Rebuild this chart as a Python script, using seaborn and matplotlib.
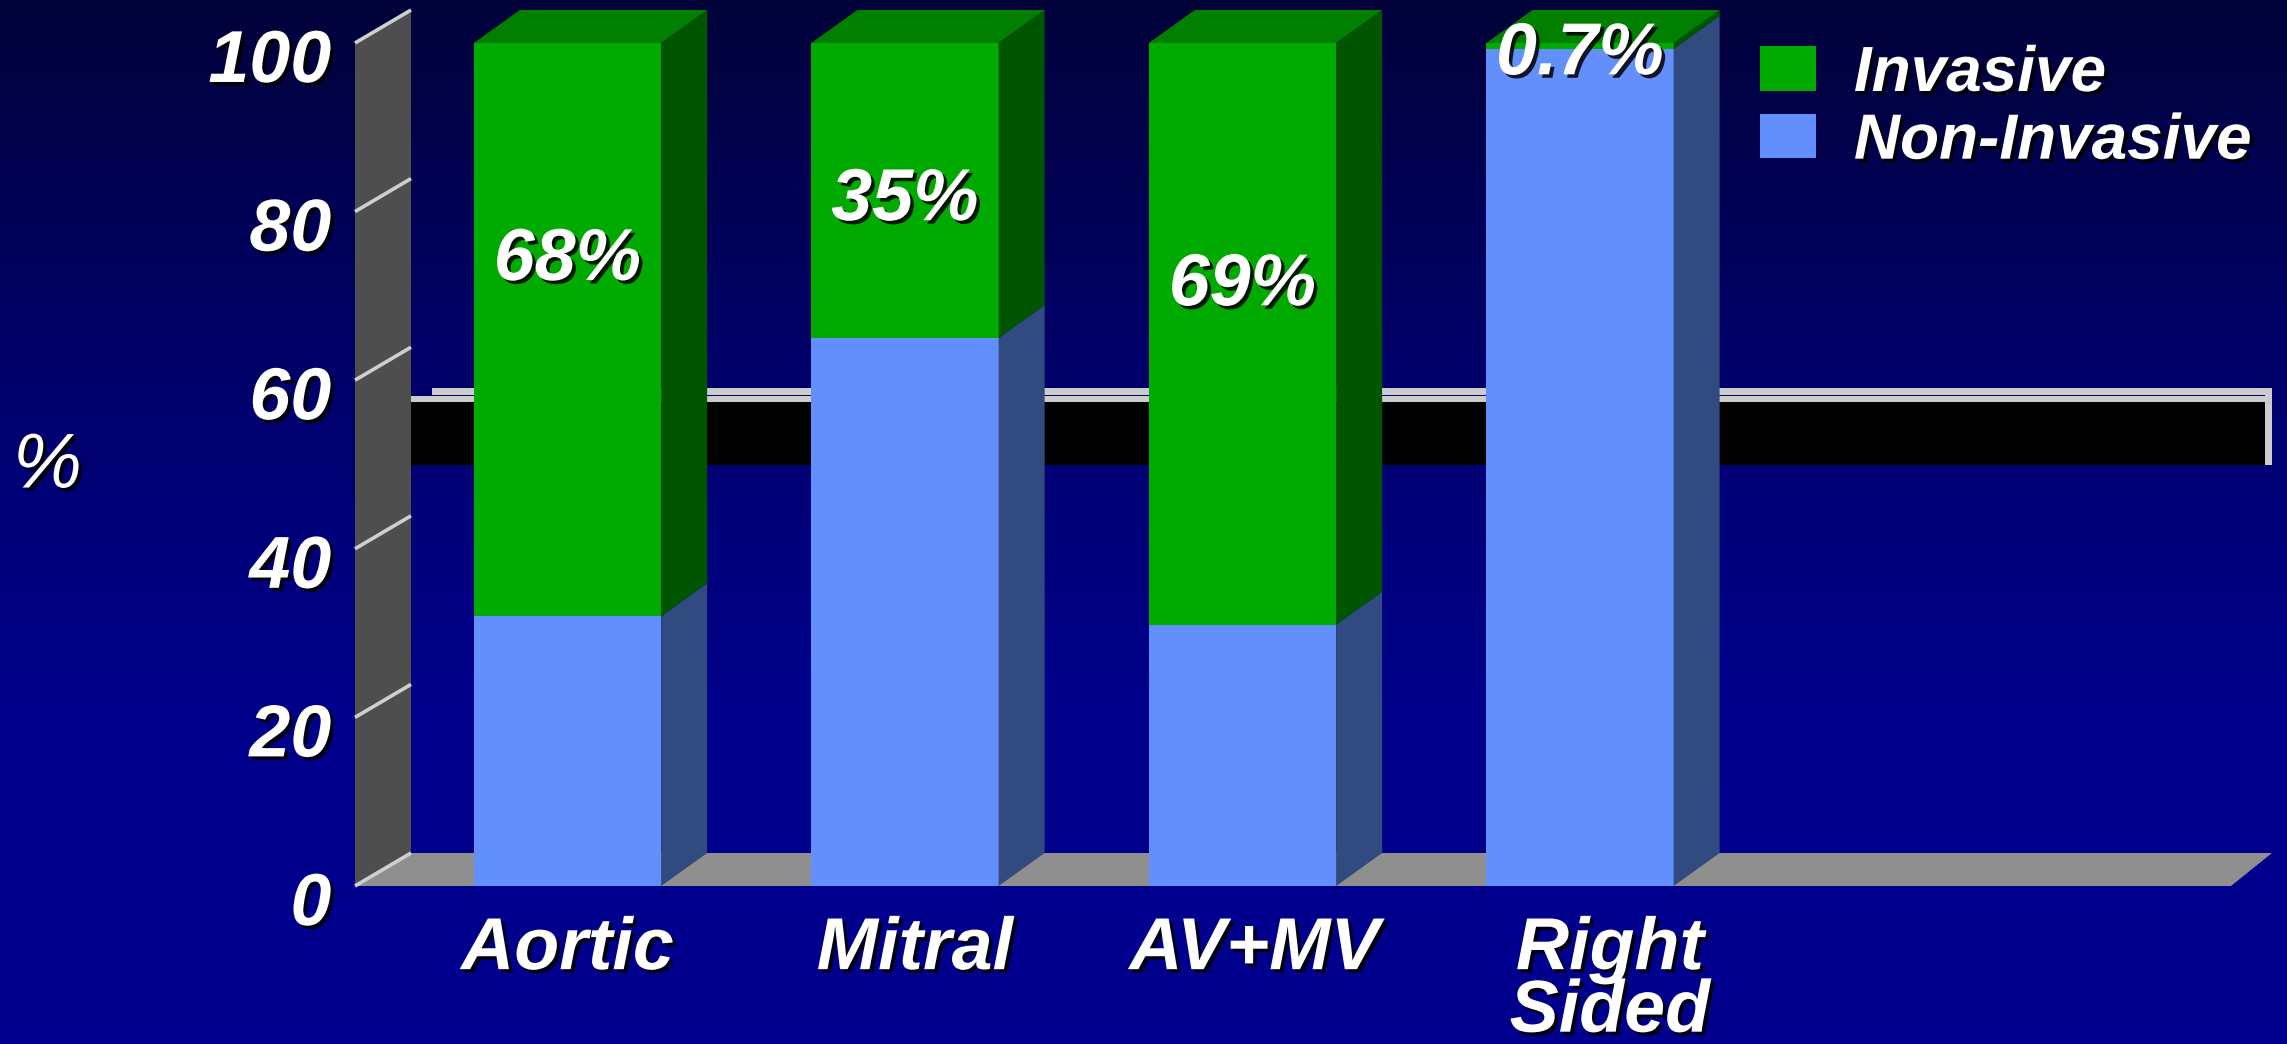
import matplotlib
matplotlib.use('Agg')
import matplotlib.pyplot as plt
import matplotlib.patheffects as pe
import matplotlib.transforms as mtransforms
from matplotlib.patches import Polygon, Rectangle, Patch
from matplotlib.colors import LinearSegmentedColormap
import seaborn as sns
import numpy as np
import pandas as pd

# data
categories = ['Aortic', 'Mitral', 'AV+MV', 'Right\nSided']
invasive = [68, 35, 69, 0.7]
non_invasive = [32, 65, 31, 99.3]
value_labels = ['68%', '35%', '69%', '0.7%']
label_heights = [74.2, 81.3, 71.2, 98.6]
yticks = [0, 20, 40, 60, 80, 100]

GREEN = '#00aa00'
GREEN_SIDE = '#005500'
GREEN_TOP = '#007f00'
BLUE = '#638ffc'
BLUE_SIDE = '#314a80'
WALL = '#4e4e4e'
FLOOR = '#8f8f8f'
TICKLINE = '#cfcfcf'

sns.set_theme(style='white')
plt.rcParams['font.family'] = ['Liberation Sans', 'DejaVu Sans']
plt.rcParams['font.weight'] = 'bold'
plt.rcParams['font.style'] = 'italic'

W, H, DPI = 2287, 1044, 100
fig = plt.figure(figsize=(W / DPI, H / DPI), dpi=DPI)

# navy gradient background
bg = fig.add_axes([0, 0, 1, 1], zorder=-10)
grad = np.linspace(0, 1, 256)[:, None]
cmap = LinearSegmentedColormap.from_list('bg', ['#02023a', '#000068', '#00008a', '#00008e'])
bg.imshow(grad, aspect='auto', cmap=cmap, extent=[0, 1, 0, 1])
bg.set_axis_off()

ax = fig.add_axes([355 / W, (H - 886) / H, (2231 - 355) / W, (886 - 43) / H])
ax.set_facecolor('none')

df = pd.DataFrame({'category': categories,
                   'invasive': invasive,
                   'non_invasive': non_invasive})
df['total'] = df['invasive'] + df['non_invasive']

shadow = [pe.withSimplePatchShadow(offset=(2.5, -2.5), shadow_rgbFace='black', alpha=0.85)]

sns.barplot(data=df, x='category', y='total', color=GREEN, saturation=1,
            width=0.555, ax=ax, zorder=3, linewidth=0, edgecolor='none')
sns.barplot(data=df, x='category', y='non_invasive', color=BLUE, saturation=1,
            width=0.555, ax=ax, zorder=3, linewidth=0, edgecolor='none')

ax.set_xlim(-0.6296, 4.929)
ax.set_ylim(0, 100)
fig.canvas.draw()


def px_to_data(dx_px, dy_px):
    inv = ax.transData.inverted()
    o = inv.transform((0, 0))
    p = inv.transform((dx_px, dy_px))
    return p[0] - o[0], p[1] - o[1]


bdx, bdy = px_to_data(46, 33)
wdx, wdy = px_to_data(56, 33)
fdx, fdy = px_to_data(41, 33)

bars = list(ax.patches)
n = len(categories)
for i in range(n):
    g = bars[i]
    b = bars[n + i]
    x0 = g.get_x()
    x1 = x0 + g.get_width()
    top = g.get_height()
    mid = b.get_height()
    faces = [
        ([(x1, 0), (x1 + bdx, bdy), (x1 + bdx, mid + bdy), (x1, mid)], BLUE_SIDE),
        ([(x1, mid), (x1 + bdx, mid + bdy), (x1 + bdx, top + bdy), (x1, top)], GREEN_SIDE),
        ([(x0, top), (x1, top), (x1 + bdx, top + bdy), (x0 + bdx, top + bdy)], GREEN_TOP),
    ]
    for verts, c in faces:
        ax.add_patch(Polygon(verts, closed=True, fc=c, ec='none', lw=0, zorder=3, clip_on=False))
    ax.text((x0 + x1) / 2, label_heights[i], value_labels[i], ha='center', va='center',
            fontsize=53, color='white', zorder=6, path_effects=shadow, clip_on=False)

xl, xr = ax.get_xlim()

# floor and side wall
ax.add_patch(Polygon([(xl, 0), (xr, 0), (xr + fdx, fdy), (xl + wdx, wdy)], closed=True,
                     fc=FLOOR, ec='none', lw=0, zorder=1, clip_on=False))
ax.add_patch(Polygon([(xl, 0), (xl + wdx, wdy), (xl + wdx, 100 + wdy), (xl, 100)], closed=True,
                     fc=WALL, ec='none', lw=0, zorder=1.2, clip_on=False))
for v in yticks:
    ax.plot([xl, xl + wdx], [v, v + wdy], color=TICKLINE, lw=2.6, zorder=1.4,
            solid_capstyle='butt', clip_on=False)

# the dark band with its grey frame behind the bars
tr = mtransforms.blended_transform_factory(ax.transAxes, ax.transData)
ax.add_patch(Rectangle((0.03, 49.9), 0.99, 7.5, transform=tr, fc='black', ec='none',
                       zorder=0.8, clip_on=False))
ax.add_patch(Rectangle((0.03, 57.4), 0.99, 0.75, transform=tr, fc='#cccccc', ec='none',
                       zorder=0.8, clip_on=False))
ax.add_patch(Rectangle((0.041, 58.3), 0.981, 0.75, transform=tr, fc='#cccccc', ec='none',
                       zorder=0.8, clip_on=False))
ax.add_patch(Rectangle((1.018, 49.9), 0.004, 9.1, transform=tr, fc='#cccccc', ec='none',
                       zorder=0.8, clip_on=False))

# axes text
ax.set_yticks(yticks)
ax.set_yticklabels([str(t) for t in yticks], fontsize=53, color='white')
ax.set_xticks(range(n))
ax.set_xticklabels(categories, fontsize=53, color='white', linespacing=0.88)
ax.tick_params(axis='both', length=0)
ax.tick_params(axis='y', pad=17)
ax.tick_params(axis='x', pad=21)
for lab in ax.get_yticklabels():
    lab.set_transform(lab.get_transform() +
                      mtransforms.ScaledTranslation(0, -12 / DPI, fig.dpi_scale_trans))
    lab.set_path_effects(shadow)
for k, lab in enumerate(ax.get_xticklabels()):
    shift = [0, 10, 12, 30][k]
    lab.set_transform(lab.get_transform() +
                      mtransforms.ScaledTranslation(shift / DPI, 0, fig.dpi_scale_trans))
    lab.set_path_effects(shadow)

ax.set_xlabel('')
ax.set_ylabel('%', rotation=0, fontsize=56, color='white', ha='center', va='center')
ax.yaxis.set_label_coords(-0.164, 0.497)
ax.yaxis.label.set_path_effects(shadow)

for s in ax.spines.values():
    s.set_visible(False)
ax.grid(False)

leg = ax.legend(handles=[Patch(fc=GREEN, ec='none', label='Invasive'),
                         Patch(fc=BLUE, ec='none', label='Non-Invasive')],
                loc='upper left', bbox_to_anchor=(1760 / W, 1 - 44 / H),
                bbox_transform=fig.transFigure, frameon=False, fontsize=46,
                labelcolor='white', handlelength=0.87, handleheight=0.69,
                handletextpad=0.6, labelspacing=0.12, borderpad=0, borderaxespad=0)
for t in leg.get_texts():
    t.set_path_effects(shadow)

fig.savefig('out.png', dpi=DPI)
